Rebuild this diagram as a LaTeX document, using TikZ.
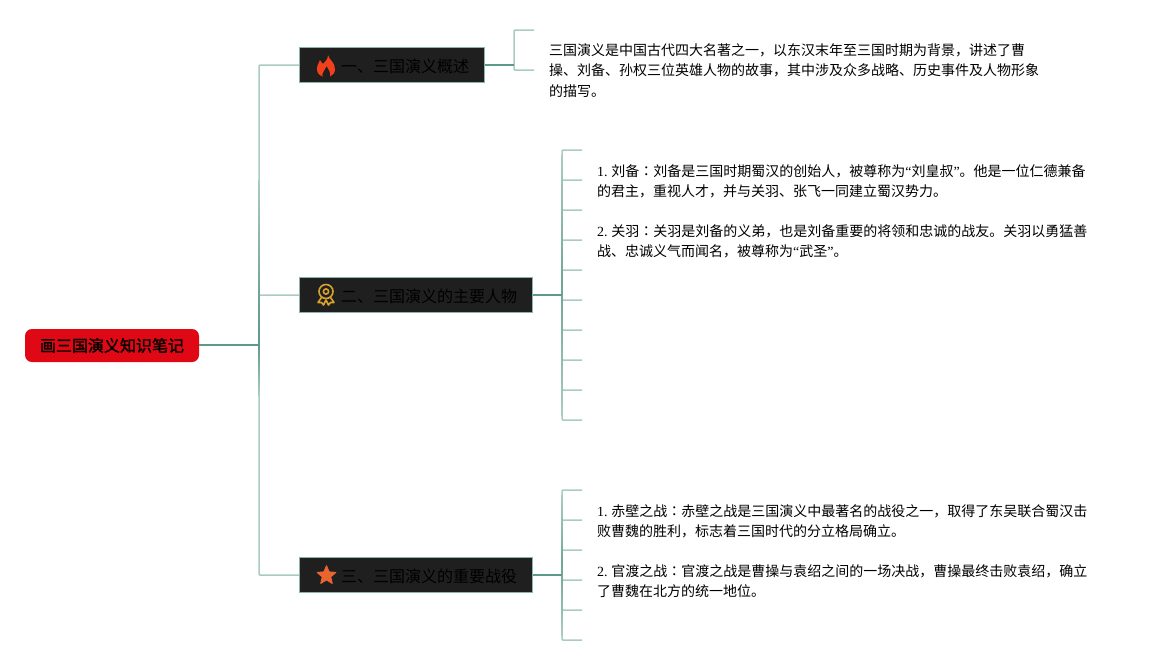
\documentclass[tikz,border=0pt]{standalone}
\usepackage{fontspec}
\setmainfont{Liberation Serif}
\newfontfamily\cjk{Noto Sans CJK SC}
\newfontfamily\cjkb[FakeBold=1.6]{Noto Sans CJK SC}
\newfontfamily\cjktc{Noto Sans CJK TC}
\usetikzlibrary{shapes.geometric}
\definecolor{rootred}{HTML}{E00814}
\definecolor{boxdark}{HTML}{1F1F1F}
\definecolor{lineA}{HTML}{6FA497}
\definecolor{lineB}{HTML}{A9CBC2}
\definecolor{lineC}{HTML}{5E9A8B}
\definecolor{flamered}{HTML}{F2401C}
\definecolor{medalgold}{HTML}{D9A22E}
\definecolor{starorange}{HTML}{E8652F}
\newcommand{\lat}[1]{{\rmfamily #1}}
\newcommand{\num}[1]{{\rmfamily #1.}\kern 3.6pt}
\newcommand{\cln}{{\cjktc ：}}
\tikzset{
  rootbox/.style={draw=none,fill=rootred,rounded corners=7pt,minimum width=174pt,minimum height=33pt,inner sep=0pt,font=\cjkb\fontsize{16}{18}\selectfont,text=black},
  branchbox/.style={draw=lineA!80!white,line width=1.2pt,fill=boxdark,minimum height=35pt,inner sep=0pt,anchor=west},
  branchtext/.style={anchor=west,inner sep=0pt,text=black,font=\cjk\fontsize{16}{18}\selectfont},
  notetext/.style={anchor=north west,inner sep=0pt,align=left,text=black,font=\cjk\fontsize{14}{20.4}\selectfont},
  trunk/.style={draw=lineC,line width=1.6pt},
  twig/.style={draw=lineB,line width=1.5pt,rounded corners=1pt},
}
\begin{document}
\begin{tikzpicture}[x=1pt,y=-1pt]
\useasboundingbox (0,0) rectangle (1157,665);
\fill[white] (0,0) rectangle (1157,665);
% nodes
\node[rootbox] (root) at (112,345.5) {画三国演义知识笔记};
\node[branchbox,minimum width=185pt] (b1) at (299,65) {};
\node[branchbox,minimum width=233pt] (b2) at (299,295) {};
\node[branchbox,minimum width=233pt] (b3) at (299,575) {};
\node[branchtext] (t1) at (341,66) {一、三国演义概述};
\node[branchtext] (t2) at (341,296) {二、三国演义的主要人物};
\node[branchtext] (t3) at (341,576) {三、三国演义的重要战役};
% note texts
\node[notetext] (n1) at (549,43.5) {三国演义是中国古代四大名著之一，以东汉末年至三国时期为背景，讲述了曹\\操、刘备、孙权三位英雄人物的故事，其中涉及众多战略、历史事件及人物形象\\的描写。};
\node[notetext] (n2) at (597,164) {\num{1}刘备\cln 刘备是三国时期蜀汉的创始人，被尊称为\lat{“}刘皇叔\lat{”}。他是一位仁德兼备\\的君主，重视人才，并与关羽、张飞一同建立蜀汉势力。\\[19.6pt]\num{2}关羽\cln 关羽是刘备的义弟，也是刘备重要的将领和忠诚的战友。关羽以勇猛善\\战、忠诚义气而闻名，被尊称为\lat{“}武圣\lat{”}。};
\node[notetext] (n3) at (597,504) {\num{1}赤壁之战\cln 赤壁之战是三国演义中最著名的战役之一，取得了东吴联合蜀汉击\\败曹魏的胜利，标志着三国时代的分立格局确立。\\[19.6pt]\num{2}官渡之战\cln 官渡之战是曹操与袁绍之间的一场决战，曹操最终击败袁绍，确立\\了曹魏在北方的统一地位。};
% junctions
\coordinate (jr) at (259,345);
\coordinate (j1) at (514,65);
\coordinate (j2) at (562,295);
\coordinate (j3) at (562,575);
% trunk
\draw[trunk] (root.east |- jr) -- (jr);
\draw[twig] (jr) |- (b1.west);
\draw[twig] (jr) |- (b2.west);
\draw[twig] (jr) |- (b3.west);
\shade[top color=lineA,bottom color=lineC] (258.2,295) rectangle (259.8,345);
\shade[top color=lineC,bottom color=lineB] (258.2,345) rectangle (259.8,395);
\shade[top color=lineB,bottom color=lineA] (258.2,180) rectangle (259.8,295);
% branch 1
\coordinate (l11) at (534,30);
\coordinate (l12) at (534,70);
\draw[twig] (j1) |- (l11);
\draw[twig] (j1) |- (l12);
\draw[trunk] (b1.east) -- (j1);
% branch 2
\foreach \y [count=\i] in {150,180,...,420}{
  \coordinate (l2\i) at (582,\y);
  \draw[twig] (j2) |- (l2\i);
}
\shade[top color=lineB,bottom color=lineB,middle color=lineA] (561.2,155) rectangle (562.8,415);
\draw[trunk] (b2.east) -- (j2);
% branch 3
\foreach \y [count=\i] in {490,520,...,640}{
  \coordinate (l3\i) at (582,\y);
  \draw[twig] (j3) |- (l3\i);
}
\shade[top color=lineB,bottom color=lineB,middle color=lineA] (561.2,495) rectangle (562.8,635);
\draw[trunk] (b3.east) -- (j3);
% flame icon
\fill[flamered] (328,55) .. controls (329,60) and (335,62) .. (335,69)
  .. controls (335,73) and (333,75) .. (330,76.5)
  .. controls (331,73) and (329,70) .. (326.5,66)
  .. controls (325,70) and (321.5,73) .. (322.5,76.5)
  .. controls (319,75) and (317,73) .. (317,69)
  .. controls (317,65) and (319,63) .. (320,60) .. controls (321,62) and (322,63) .. (323,64)
  .. controls (325,62) and (328,59) .. (328,55) -- cycle;
% medal icon
\begin{scope}[draw=medalgold,line width=1.6pt]
\draw (326,291.5) circle (7);
\draw (326,291.5) circle (2.6);
\draw[line join=round] (321.5,297.5) -- (318,302.5) -- (321.5,302.5) -- (323.5,305) -- (326,300) -- (328.5,305) -- (330.5,302.5) -- (334,302.5) -- (330.5,297.5);
\end{scope}
% star icon
\node[star,star points=5,star point ratio=2.2,fill=starorange,draw=starorange,line join=round,line width=1pt,minimum size=19.5pt,inner sep=0pt] (s3) at (326.5,575.5) {};
\end{tikzpicture}
\end{document}
